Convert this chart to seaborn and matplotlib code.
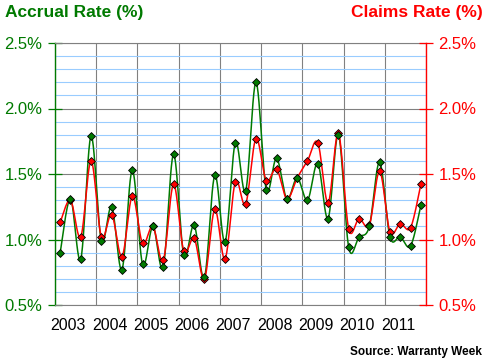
import numpy as np
import pandas as pd
import matplotlib
matplotlib.use("Agg")
import matplotlib.pyplot as plt
import seaborn as sns
from matplotlib.ticker import FixedLocator, FuncFormatter

# ---------------- data ----------------
years = ["2003", "2004", "2005", "2006", "2007", "2008", "2009", "2010", "2011"]
quarters = [f"{y} Q{q}" for y in years for q in range(1, 5)]
accrual_rate = [0.90, 1.31, 0.85, 1.79,
                0.99, 1.25, 0.77, 1.53,
                0.81, 1.10, 0.79, 1.65,
                0.88, 1.11, 0.71, 1.49,
                0.98, 1.74, 1.37, 2.20,
                1.38, 1.62, 1.31, 1.47,
                1.30, 1.58, 1.16, 1.80,
                0.94, 1.02, 1.10, 1.59,
                1.02, 1.02, 0.95, 1.26]
claims_rate = [1.13, 1.30, 1.02, 1.60,
               1.02, 1.19, 0.87, 1.33,
               0.97, 1.10, 0.84, 1.42,
               0.91, 1.01, 0.70, 1.23,
               0.85, 1.44, 1.27, 1.77,
               1.45, 1.54, 1.31, 1.47,
               1.60, 1.74, 1.28, 1.81,
               1.08, 1.16, 1.11, 1.52,
               1.06, 1.12, 1.09, 1.42]
y_ticks = [0.5, 1.0, 1.5, 2.0, 2.5]

GREEN = "#007A00"
RED = "#FF0000"
GRAY = "#808080"
LBLUE = "#99CCFF"

sns.set_style("white")
plt.rcParams["font.family"] = ["Liberation Sans", "DejaVu Sans"]

df = pd.DataFrame({"quarter": quarters,
                   "idx": np.arange(len(quarters)),
                   "accrual": accrual_rate,
                   "claims": claims_rate})


def smooth(xv, yv, n=24):
    """Smoothed display curve (Catmull-Rom style Bezier) through the data points."""
    xv = np.asarray(xv, float)
    yv = np.asarray(yv, float)
    P = np.column_stack([xv, yv])
    Pp = np.vstack([P[0], P, P[-1]])
    out = []
    t = np.linspace(0, 1, n, endpoint=False)[:, None]
    for i in range(len(P) - 1):
        p0, p1, p2, p3 = Pp[i], Pp[i + 1], Pp[i + 2], Pp[i + 3]
        c1 = p1 + (p2 - p0) / 6.0
        c2 = p2 - (p3 - p1) / 6.0
        seg = ((1 - t) ** 3) * p1 + 3 * ((1 - t) ** 2) * t * c1 + 3 * (1 - t) * t ** 2 * c2 + t ** 3 * p2
        out.append(seg)
    out.append(P[-1][None, :])
    out = np.vstack(out)
    return pd.DataFrame({"x": out[:, 0], "y": out[:, 1]})


fig = plt.figure(figsize=(4.86, 3.63), dpi=100)
ax = fig.add_axes([55 / 486, 58 / 363, 371 / 486, 262 / 363])

sg = smooth(df["idx"], df["accrual"])
sr = smooth(df["idx"], df["claims"])
sns.lineplot(data=sg, x="x", y="y", sort=False, estimator=None, color=GREEN, lw=1.1, ax=ax, zorder=3)
sns.lineplot(data=sr, x="x", y="y", sort=False, estimator=None, color=RED, lw=1.1, ax=ax, zorder=3)
sns.scatterplot(data=df, x="idx", y="claims", marker="D", s=16, color=RED,
                edgecolor="black", linewidth=0.6, ax=ax, zorder=4)
sns.scatterplot(data=df, x="idx", y="accrual", marker="D", s=16, color=GREEN,
                edgecolor="black", linewidth=0.6, ax=ax, zorder=5)

ax.set_xlim(-0.5, len(quarters) - 0.5)
ax.set_ylim(0.5, 2.5)
ax.set_xlabel("")
ax.set_ylabel("")

# y grid
ax.yaxis.set_major_locator(FixedLocator(y_ticks))
ax.yaxis.set_minor_locator(FixedLocator(np.arange(0.6, 2.5, 0.1)))
ax.yaxis.set_major_formatter(FuncFormatter(lambda v, p: f"{v:.1f}%"))
ax.grid(axis="y", which="minor", color=LBLUE, lw=0.8)
ax.grid(axis="y", which="major", color=GRAY, lw=0.8)
# x grid at year boundaries
ax.xaxis.set_minor_locator(FixedLocator([4 * k - 0.5 for k in range(len(years) + 1)]))
ax.xaxis.set_major_locator(FixedLocator([4 * k + 0.8 for k in range(len(years))]))
ax.set_xticklabels(years)
ax.grid(axis="x", which="minor", color=GRAY, lw=0.8)
ax.grid(axis="x", which="major", visible=False)
ax.set_axisbelow(True)

ax.tick_params(axis="x", which="major", length=0, labelsize=11.5, labelcolor="black", pad=9)
ax.tick_params(axis="x", which="minor", length=4, color=GRAY, width=0.8, direction="out")
ax.tick_params(axis="y", which="major", length=10, direction="inout", color=GREEN,
               width=0.9, labelsize=12, labelcolor=GREEN, pad=4)
ax.tick_params(axis="y", which="minor", length=0)

for s in ["top", "bottom"]:
    ax.spines[s].set_color(GRAY)
    ax.spines[s].set_linewidth(0.8)
ax.spines["left"].set_color(GREEN)
ax.spines["left"].set_linewidth(1.0)
ax.spines["right"].set_visible(False)

ax2 = ax.twinx()
ax2.set_ylim(0.5, 2.5)
ax2.yaxis.set_major_locator(FixedLocator(y_ticks))
ax2.yaxis.set_major_formatter(FuncFormatter(lambda v, p: f"{v:.1f}%"))
ax2.tick_params(axis="y", which="major", length=10, direction="inout", color=RED,
                width=0.9, labelsize=12, labelcolor=RED, pad=4)
for s in ["top", "bottom", "left"]:
    ax2.spines[s].set_visible(False)
ax2.spines["right"].set_color(RED)
ax2.spines["right"].set_linewidth(1.0)
ax2.grid(False)

fig.text(5 / 486, 1 - 12 / 363, "Accrual Rate (%)", color=GREEN, fontsize=12.5,
         fontweight="bold", ha="left", va="center")
fig.text(483 / 486, 1 - 12 / 363, "Claims Rate (%)", color=RED, fontsize=12.5,
         fontweight="bold", ha="right", va="center")
fig.text(482 / 486, 1 - 352 / 363, "Source: Warranty Week", color="black", fontsize=8.5,
         fontweight="bold", ha="right", va="center")

fig.savefig("out.png", dpi=100, facecolor="white")
